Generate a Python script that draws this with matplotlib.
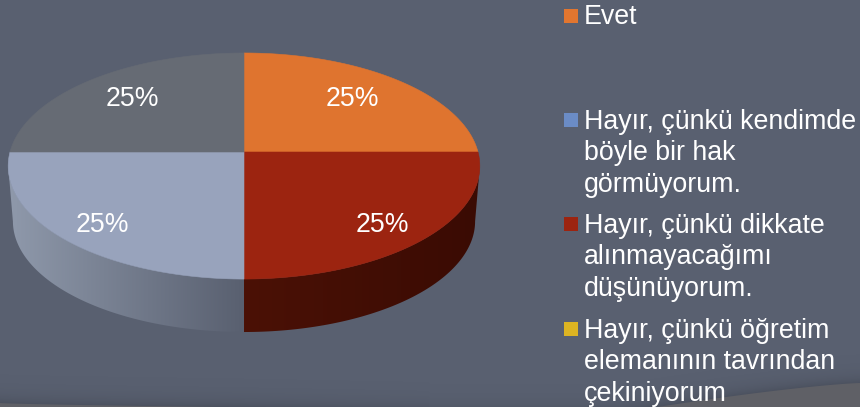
import numpy as np
import matplotlib
matplotlib.use("Agg")
import matplotlib.pyplot as plt
from matplotlib.colors import to_rgb
from matplotlib.patches import Polygon, Rectangle

plt.rcParams["font.family"] = ["Liberation Sans", "DejaVu Sans"]

# values and names
slice_values = [25, 25, 25, 25]
slice_labels = ["25%", "25%", "25%", "25%"]
slice_colors = ["#DF742F", "#9C2410", "#98A3BC", "#666B74"]
wall_left = [None, "#4B1106", "#8F99AB", None]
wall_right = [None, "#3A0B03", "#596070", None]
label_x = [352, 382, 102, 132]
label_y = [99.5, 224.5, 224.5, 99.5]

legend_lines = ["Evet",
                "Hayır, çünkü kendimde\nböyle bir hak\ngörmüyorum.",
                "Hayır, çünkü dikkate\nalınmayacağımı\ndüşünüyorum.",
                "Hayır, çünkü öğretim\nelemanının tavrından\nçekiniyorum"]
legend_colors = ["#E2762F", "#6B8CC6", "#9C2410", "#DDB422"]
legend_y = [15.5, 120, 224, 329]

bg = "#596070"
swoosh = "#5F6066"

# pie geometry in pixels
cx, cy = 244, 152
a, b, k = 234, 111.3, 0.124
wall_scale, wall_cy = 0.98, 207.5


def top_xy(deg):
    # deg runs clockwise from 12 o'clock, front of the pie is pulled towards us
    t = np.radians(deg)
    u, v = np.sin(t), -np.cos(t)
    w = 1 - k * v
    return cx + a * u / w, cy + b * v / w


def low_xy(deg):
    x, y = top_xy(deg)
    return cx + (x - cx) * wall_scale, wall_cy + (y - cy) * wall_scale


fig = plt.figure(figsize=(8.6, 4.07), dpi=100)
ax = fig.add_axes([0, 0, 1, 1])
ax.set_xlim(0, 860)
ax.set_ylim(407, 0)
ax.axis("off")
fig.patch.set_facecolor(bg)

# shadow above the swoosh at the bottom of the slide
xs = np.arange(0, 861)
ys = np.arange(300, 408)
edge = np.where(xs < 430, 403 + 4 * np.clip(xs / 220, 0, 1) ** 0.7 + 4 * np.clip((xs - 220) / 210, 0, 1),
                383 + 28 * np.clip((860 - xs) / 228, 0, 1.05) ** 1.3)
X, Y = np.meshgrid(xs, ys)
E = edge[X]
shade = np.zeros(X.shape + (4,))
shade[..., 3] = 0.14 * np.exp(-np.clip(E - Y, 0, None) / 8)
ax.imshow(shade, extent=(0, 860, 407, 300), aspect="auto", zorder=1)
ax.fill_between(xs, edge, 408, color=swoosh, lw=0, zorder=2)

# slices, walls first. The wall starts where the top face is widest
starts = np.cumsum([0] + slice_values[:-1]) / sum(slice_values) * 360
ends = np.cumsum(slice_values) / sum(slice_values) * 360
wide = np.degrees(np.arccos(-k))

for s, e, c1, c2 in zip(starts, ends, wall_left, wall_right):
    lo, hi = max(s, wide), min(e, 360 - wide)
    if hi <= lo:
        continue
    d = np.linspace(lo, hi, 80)
    tx, ty = top_xy(d)
    bx, by = low_xy(d[::-1])
    poly = Polygon(np.c_[np.r_[tx, bx], np.r_[ty, by]], closed=True, fc="none", ec="none", zorder=3)
    ax.add_patch(poly)
    x0, x1 = min(tx.min(), bx.min()), max(tx.max(), bx.max())
    grad = np.linspace(to_rgb(c1), to_rgb(c2), 128)[None, :, :]
    im = ax.imshow(grad, extent=(x0, x1, 340, 150), aspect="auto", zorder=3)
    im.set_clip_path(poly)
ax.set_xlim(0, 860)
ax.set_ylim(407, 0)

for s, e, c in zip(starts, ends, slice_colors):
    d = np.linspace(s, e, 80)
    tx, ty = top_xy(d)
    ax.add_patch(Polygon(np.c_[np.r_[cx, tx], np.r_[cy, ty]], closed=True, fc=c, ec=c, lw=0.4, zorder=4))

for x, y, t in zip(label_x, label_y, slice_labels):
    ax.text(x, y, t, color="white", fontsize=19.2, ha="center", va="center", zorder=5)

# legend
for y, t, c in zip(legend_y, legend_lines, legend_colors):
    ax.add_patch(Rectangle((564, y - 7), 14, 14, fc=c, ec="none", zorder=5))
    ax.text(584, y - 11, t, color="white", fontsize=19.3, ha="left", va="top",
            linespacing=1.27, zorder=5)

fig.savefig("out.png", dpi=100, facecolor=fig.get_facecolor())
